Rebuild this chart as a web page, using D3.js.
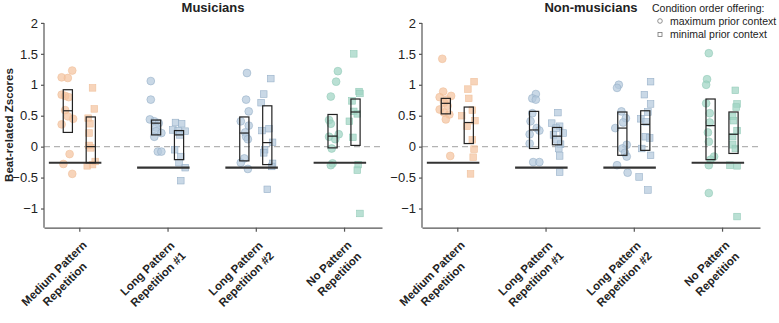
<!DOCTYPE html>
<html>
<head>
<meta charset="utf-8">
<script src="https://cdn.jsdelivr.net/npm/d3@7"></script>
<style>
  body { margin: 0; background: #fff; }
  text { font-family: "Liberation Sans", Arial, Helvetica, sans-serif; fill: #222; }
  .axis path, .axis line { stroke: #555; stroke-width: 1.2; }
</style>
</head>
<body>
<div id="graph"></div>
<script>
// categories and groups
let categories = [
    ["Medium Pattern", "Repetition"],
    ["Long Pattern", "Repetition #1"],
    ["Long Pattern", "Repetition #2"],
    ["No Pattern", "Repetition"]
];
let panels = ["Musicians", "Non-musicians"];
let catColors = ["#f4c4a0", "#b4c9dd", "#b4c9dd", "#a0d4c3"];
let catStroke = ["#f0c09b", "#97b0c8", "#97b0c8", "#93cbb8"];
let chanceLevels = [-0.26, -0.34, -0.34, -0.26];
let yTicks = [-1, -0.5, 0, 0.5, 1, 1.5, 2];

// musicians, maximum prior context (circles)
let musMaxVals = [
    [1.23, 1.12, 1.11, 0.84, 0.82, 0.80, 0.59, 0.49, 0.45, 0.36, -0.12, -0.28, -0.44],
    [1.06, 0.76, 0.44, 0.41, 0.38, 0.31, 0.25, 0.22, 0.16, -0.08, -0.08],
    [1.19, 0.76, 0.57, 0.41, 0.34, 0.23, 0.16, 0.12, -0.19, -0.26, -0.36],
    [1.22, 1.05, 0.81, 0.43, 0.37, 0.20, 0.16, 0.12, -0.03, -0.27, -0.30]
];
let musMaxJitter = [
    [0.05, -0.07, 0.0, -0.07, -0.03, 0.01, -0.03, 0.0, 0.06, -0.07, 0.02, -0.05, 0.05],
    [-0.06, -0.06, -0.07, -0.02, 0.03, 0.0, 0.0, 0.06, -0.02, 0.02, 0.06],
    [0.03, 0.02, 0.05, -0.04, 0.05, 0.01, 0.02, 0.04, 0.0, -0.04, 0.04],
    [0.06, 0.04, -0.02, -0.04, -0.02, 0.07, -0.04, 0.03, -0.01, 0.0, -0.02]
];
// musicians, minimal prior context (squares)
let musMinVals = [
    [0.95, 0.61, 0.46, 0.37, 0.22, 0.02, -0.02, -0.24, -0.29, -0.31],
    [0.39, 0.37, 0.27, 0.26, 0.25, 0.19, -0.05, -0.16, -0.26, -0.34, -0.55],
    [1.10, 0.85, 0.71, 0.29, 0.26, 0.07, -0.05, -0.10, -0.27, -0.32, -0.69],
    [1.50, 0.89, 0.86, 0.74, 0.57, 0.53, 0.41, 0.15, -0.29, -0.38, -1.08]
];
let musMinJitter = [
    [0.02, 0.04, -0.03, -0.01, -0.02, -0.02, 0.0, 0.05, 0.02, -0.04],
    [-0.04, 0.03, -0.07, -0.01, 0.07, 0.01, -0.05, 0.02, 0.0, 0.07, 0.02],
    [0.04, -0.04, -0.07, 0.02, -0.06, 0.06, -0.03, -0.04, 0.06, 0.05, 0.0],
    [-0.02, 0.04, 0.05, -0.04, -0.02, 0.02, -0.07, -0.03, 0.03, 0.02, 0.05]
];
// non-musicians, maximum prior context (circles)
let nonMaxVals = [
    [1.42, 0.89, 0.82, 0.80, 0.76, 0.71, 0.66, 0.60, 0.55, 0.52, 0.44, -0.15],
    [0.85, 0.78, 0.76, 0.54, 0.41, 0.30, 0.26, 0.20, 0.05, -0.25, -0.25],
    [1.00, 0.95, 0.57, 0.46, 0.39, 0.30, 0.03, -0.03, -0.10, -0.16, -0.30, -0.42],
    [1.51, 1.09, 1.00, 0.70, 0.54, 0.39, 0.23, 0.08, -0.16, -0.21, -0.30, -0.75]
];
let nonMaxJitter = [
    [-0.04, -0.03, 0.06, -0.07, 0.01, -0.02, 0.02, -0.07, -0.02, 0.04, 0.0, 0.05],
    [0.02, -0.02, 0.02, -0.02, -0.04, 0.03, 0.06, -0.05, -0.05, -0.01, 0.06],
    [-0.04, -0.06, -0.01, 0.04, 0.01, -0.08, 0.05, 0.0, 0.03, 0.05, -0.06, 0.06],
    [-0.02, -0.04, -0.05, -0.05, -0.01, -0.01, -0.03, -0.02, 0.04, 0.0, -0.02, -0.02]
];
// non-musicians, minimal prior context (squares)
let nonMinVals = [
    [1.05, 0.93, 0.78, 0.59, 0.50, 0.42, 0.33, 0.11, -0.04, -0.17, -0.44],
    [0.55, 0.38, 0.33, 0.30, 0.22, 0.19, 0.11, 0.04, -0.03, -0.15, -0.41],
    [1.05, 0.84, 0.69, 0.56, 0.45, 0.40, 0.16, 0.14, -0.03, -0.14, -0.49, -0.70],
    [0.91, 0.69, 0.64, 0.49, 0.42, 0.26, 0.16, 0.03, -0.03, -0.30, -0.31, -1.13]
];
let nonMinJitter = [
    [0.06, -0.01, 0.0, 0.04, -0.08, 0.07, -0.02, 0.04, 0.06, 0.05, 0.02],
    [0.01, -0.06, 0.03, -0.01, 0.07, -0.04, 0.0, 0.04, 0.02, 0.03, 0.03],
    [0.06, -0.01, 0.06, 0.03, -0.05, 0.01, 0.0, 0.05, -0.04, 0.06, -0.07, 0.03],
    [0.02, 0.04, 0.03, -0.01, 0.0, 0.04, -0.01, -0.01, 0.02, -0.04, 0.04, 0.04]
];

// boxes: [bottom, median, top]
let musMaxBox = [[0.23, 0.58, 0.92], [0.19, 0.38, 0.43], [-0.23, 0.22, 0.48], [-0.02, 0.17, 0.52]];
let musMinBox = [[-0.26, 0.0, 0.48], [-0.21, 0.19, 0.26], [-0.29, 0.065, 0.66], [0.02, 0.56, 0.77]];
let nonMaxBox = [[0.53, 0.70, 0.78], [-0.03, 0.27, 0.57], [-0.14, 0.30, 0.56], [-0.21, 0.34, 0.77]];
let nonMinBox = [[0.05, 0.39, 0.64], [0.03, 0.17, 0.31], [-0.06, 0.36, 0.58], [-0.11, 0.20, 0.56]];

let panelData = [
    {title: panels[0], maxVals: musMaxVals, maxJit: musMaxJitter, minVals: musMinVals, minJit: musMinJitter, maxBox: musMaxBox, minBox: musMinBox},
    {title: panels[1], maxVals: nonMaxVals, maxJit: nonMaxJitter, minVals: nonMinVals, minJit: nonMinJitter, maxBox: nonMaxBox, minBox: nonMinBox}
];

let width = 779, height = 323;
let panelLeft = [44, 422], panelWidth = 338;
let plotTop = 22.9, plotBottom = 227.7;
let groupOffset = 0.13, boxHalf = 0.052;

let svg = d3.select("#graph").append("svg")
    .attr("width", width)
    .attr("height", height);

let y = d3.scaleLinear().domain([-1.31, 2]).range([plotBottom, plotTop]);

panelData.forEach((p, pi) => {
    let x = d3.scaleLinear().domain([0.6, 4.43]).range([panelLeft[pi], panelLeft[pi] + panelWidth]);
    let g = svg.append("g");

    // zero line
    g.append("line")
        .attr("x1", x(0.6)).attr("x2", x(4.43))
        .attr("y1", y(0)).attr("y2", y(0))
        .attr("stroke", "#b3b3b3")
        .attr("stroke-width", 1.3)
        .attr("stroke-dasharray", "6,4");

    categories.forEach((c, ci) => {
        let cx = ci + 1;
        // circles
        g.selectAll(".c" + ci)
            .data(p.maxVals[ci].map((v, k) => ({v: v, j: p.maxJit[ci][k]})))
            .enter().append("circle")
            .attr("cx", d => x(cx - groupOffset + d.j))
            .attr("cy", d => y(d.v))
            .attr("r", 3.9)
            .attr("fill", catColors[ci])
            .attr("fill-opacity", 0.72)
            .attr("stroke", catStroke[ci])
            .attr("stroke-width", 0.6);
        // squares
        g.selectAll(".s" + ci)
            .data(p.minVals[ci].map((v, k) => ({v: v, j: p.minJit[ci][k]})))
            .enter().append("rect")
            .attr("x", d => x(cx + groupOffset + d.j) - 3.3)
            .attr("y", d => y(d.v) - 3.3)
            .attr("width", 6.6)
            .attr("height", 6.6)
            .attr("fill", catColors[ci])
            .attr("fill-opacity", 0.72)
            .attr("stroke", catStroke[ci])
            .attr("stroke-width", 0.6);

        // chance line
        g.append("line")
            .attr("x1", x(cx - 0.345)).attr("x2", x(cx + 0.25))
            .attr("y1", y(chanceLevels[ci])).attr("y2", y(chanceLevels[ci]))
            .attr("stroke", "#333")
            .attr("stroke-width", 2.2);

        // boxes
        [[p.maxBox[ci], -groupOffset], [p.minBox[ci], groupOffset]].forEach(([b, off]) => {
            g.append("rect")
                .attr("x", x(cx + off - boxHalf))
                .attr("y", y(b[2]))
                .attr("width", x(cx + off + boxHalf) - x(cx + off - boxHalf))
                .attr("height", y(b[0]) - y(b[2]))
                .attr("fill", "none")
                .attr("stroke", "#222")
                .attr("stroke-width", 1.2);
            g.append("line")
                .attr("x1", x(cx + off - boxHalf)).attr("x2", x(cx + off + boxHalf))
                .attr("y1", y(b[1])).attr("y2", y(b[1]))
                .attr("stroke", "#222")
                .attr("stroke-width", 1.2);
        });
    });

    // y axis
    let yAxis = g.append("g")
        .attr("class", "axis")
        .attr("transform", "translate(" + panelLeft[pi] + ",0)")
        .call(d3.axisLeft(y).tickValues(yTicks).tickSize(3).tickSizeOuter(0).tickFormat(d3.format("")));
    yAxis.selectAll("text").style("font-size", "13px").attr("x", -6);
    yAxis.select(".domain").attr("d", "M0," + y(2) + "V" + plotBottom);

    // x axis
    g.append("g")
        .attr("class", "axis")
        .attr("transform", "translate(0," + plotBottom + ")")
        .call(d3.axisBottom(x).tickValues([1, 2, 3, 4]).tickSize(4).tickSizeOuter(0).tickFormat(""));

    // rotated two-line category labels
    categories.forEach((lines, ci) => {
        let lg = g.append("g")
            .attr("transform", "translate(" + (x(ci + 1) + 1) + "," + (plotBottom + 11) + ")rotate(-45)");
        let texts = lines.map((t, li) => lg.append("text")
            .attr("y", 10 + li * 15)
            .attr("text-anchor", "middle")
            .style("font-size", "11.5px")
            .style("font-weight", "bold")
            .text(t));
        let w = d3.max(texts, t => t.node().getComputedTextLength());
        texts.forEach(t => t.attr("x", -w / 2));
    });

    // title
    g.append("text")
        .attr("x", panelLeft[pi] + panelWidth / 2)
        .attr("y", 12)
        .attr("text-anchor", "middle")
        .style("font-size", "13px")
        .style("font-weight", "bold")
        .text(p.title);
});

// y label
svg.append("text")
    .attr("transform", "translate(13," + y(0.35) + ")rotate(-90)")
    .attr("text-anchor", "middle")
    .style("font-size", "11.5px")
    .style("font-weight", "bold")
    .text("Beat-related Zscores");

// legend
let legend = svg.append("g");
legend.append("text")
    .attr("x", 652).attr("y", 12)
    .style("font-size", "10.5px")
    .text("Condition order offering:");
legend.append("circle")
    .attr("cx", 660).attr("cy", 21)
    .attr("r", 2.3)
    .attr("fill", "none").attr("stroke", "#777").attr("stroke-width", 0.8);
legend.append("rect")
    .attr("x", 658).attr("y", 32.5)
    .attr("width", 4).attr("height", 4)
    .attr("fill", "none").attr("stroke", "#777").attr("stroke-width", 0.8);
legend.append("text")
    .attr("x", 670).attr("y", 25)
    .style("font-size", "10.5px")
    .text("maximum prior context");
legend.append("text")
    .attr("x", 670).attr("y", 38)
    .style("font-size", "10.5px")
    .text("minimal prior context");
</script>
</body>
</html>
